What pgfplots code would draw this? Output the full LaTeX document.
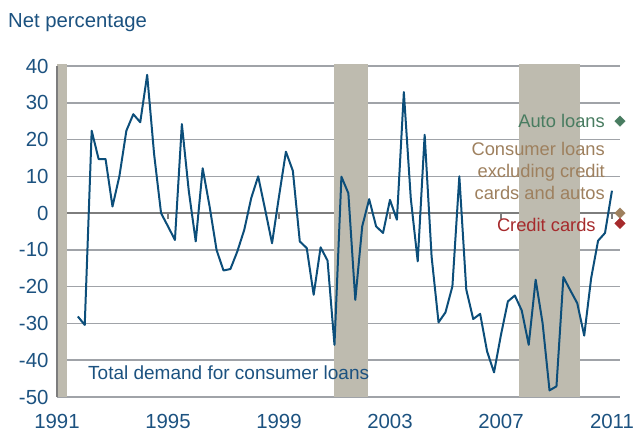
\documentclass[border=0pt]{standalone}
\usepackage{fontspec}
\setmainfont{Liberation Sans}
\usepackage{pgfplots}
\pgfplotsset{compat=1.18}
\definecolor{txtblue}{RGB}{28,82,128}
\definecolor{lineblue}{RGB}{12,78,122}
\definecolor{autogreen}{RGB}{72,124,96}
\definecolor{consbrown}{RGB}{158,128,94}
\definecolor{ccred}{RGB}{166,42,44}
\definecolor{shade}{RGB}{190,187,175}
\definecolor{gridgray}{RGB}{160,163,168}
\definecolor{zeroc}{RGB}{125,125,125}

\begin{document}
\begin{tikzpicture}
\useasboundingbox (0pt,0pt) rectangle (635pt,432pt);
\begin{axis}[at={(57pt,35pt)},anchor=south west,scale only axis,
  width=563pt,height=331pt,
  xmin=1991,xmax=2011.29,ymin=-50,ymax=40,clip=false,
  axis x line*=bottom,axis y line*=left,
  axis line style={draw=none},
  xtick={1991,1995,1999,2003,2007,2011},
  xticklabels={1991,1995,1999,2003,2007,2011},
  ytick={-50,-40,-30,-20,-10,0,10,20,30,40},
  yticklabels={-50,-40,-30,-20,-10,0,10,20,30,40},
  major tick length=0pt,
  tick label style={font=\fontsize{20.4}{23}\selectfont,text=txtblue},
  xticklabel style={yshift=-14pt},
  yticklabel style={xshift=-5pt}]
% grid, as thin filled strips
\fill[gridgray] ([yshift=-0.75pt]axis cs:1991,-50) rectangle ([yshift=0.75pt]axis cs:2011.29,-50);
\fill[gridgray] ([yshift=-0.75pt]axis cs:1991,-40) rectangle ([yshift=0.75pt]axis cs:2011.29,-40);
\fill[gridgray] ([yshift=-0.75pt]axis cs:1991,-30) rectangle ([yshift=0.75pt]axis cs:2011.29,-30);
\fill[gridgray] ([yshift=-0.75pt]axis cs:1991,-20) rectangle ([yshift=0.75pt]axis cs:2011.29,-20);
\fill[gridgray] ([yshift=-0.75pt]axis cs:1991,-10) rectangle ([yshift=0.75pt]axis cs:2011.29,-10);
\fill[gridgray] ([yshift=-0.75pt]axis cs:1991,10) rectangle ([yshift=0.75pt]axis cs:2011.29,10);
\fill[gridgray] ([yshift=-0.75pt]axis cs:1991,20) rectangle ([yshift=0.75pt]axis cs:2011.29,20);
\fill[gridgray] ([yshift=-0.75pt]axis cs:1991,30) rectangle ([yshift=0.75pt]axis cs:2011.29,30);
\fill[gridgray] ([yshift=-0.75pt]axis cs:1991,40) rectangle ([yshift=0.75pt]axis cs:2011.29,40);
\fill[zeroc] ([yshift=-1pt]axis cs:1991,0) rectangle ([yshift=1pt]axis cs:2011.29,0);
% recessions
\addplot[fill=shade,draw=none] coordinates {(1991,-50)(1991,40.5)(1991.35,40.5)(1991.35,-50)} -- cycle;
\addplot[fill=shade,draw=none] coordinates {(2001.0,-50)(2001.0,40.5)(2002.2,40.5)(2002.2,-50)} -- cycle;
\addplot[fill=shade,draw=none] coordinates {(2007.65,-50)(2007.65,40.5)(2009.85,40.5)(2009.85,-50)} -- cycle;
% left edge
\draw[zeroc,line width=1.6pt] (rel axis cs:0,0) -- (rel axis cs:0,1);
% small ticks on the zero line
\draw[zeroc,line width=1.5pt] (axis cs:1995,0) -- ++(0pt,-5.5pt);
\draw[zeroc,line width=1.5pt] (axis cs:1999,0) -- ++(0pt,-5.5pt);
\draw[zeroc,line width=1.5pt] (axis cs:2003,0) -- ++(0pt,-5.5pt);
\draw[zeroc,line width=1.5pt] (axis cs:2007,0) -- ++(0pt,-5.5pt);
\draw[zeroc,line width=1.5pt] (axis cs:2011,0) -- ++(0pt,-5.5pt);
% total demand for consumer loans
\addplot[lineblue,line width=2pt,line join=round] coordinates {
(1991.75,-28.1)(1992.00,-30.4)(1992.25,22.4)(1992.50,14.7)(1992.75,14.7)
(1993.00,1.8)(1993.25,10.1)(1993.50,22.4)(1993.75,26.9)(1994.00,24.7)
(1994.25,37.6)(1994.50,16.0)(1994.75,0.0)(1995.00,-3.6)(1995.25,-7.3)
(1995.50,24.2)(1995.75,6.0)(1996.00,-7.7)(1996.25,12.2)(1996.50,1.8)
(1996.75,-10.0)(1997.00,-15.6)(1997.25,-15.2)(1997.50,-10.4)(1997.75,-4.5)
(1998.00,4.1)(1998.25,10.0)(1998.50,1.0)(1998.75,-8.2)(1999.00,4.5)
(1999.25,16.7)(1999.50,11.5)(1999.75,-7.7)(2000.00,-9.5)(2000.25,-22.2)
(2000.50,-9.3)(2000.75,-12.9)(2001.00,-35.8)(2001.25,9.9)(2001.50,5.4)
(2001.75,-23.6)(2002.00,-3.6)(2002.25,3.8)(2002.50,-3.6)(2002.75,-5.4)
(2003.00,3.6)(2003.25,-1.8)(2003.50,32.9)(2003.75,4.0)(2004.00,-13.1)
(2004.25,21.3)(2004.50,-11.8)(2004.75,-29.7)(2005.00,-27.0)(2005.25,-19.9)
(2005.50,10.0)(2005.75,-20.8)(2006.00,-28.8)(2006.25,-27.4)(2006.50,-37.6)
(2006.75,-43.3)(2007.00,-33.1)(2007.25,-24.0)(2007.50,-22.4)(2007.75,-26.5)
(2008.00,-35.8)(2008.25,-18.1)(2008.50,-29.9)(2008.75,-48.2)(2009.00,-47.1)
(2009.25,-17.4)(2009.50,-21.0)(2009.75,-24.5)(2010.00,-33.3)(2010.25,-17.7)
(2010.50,-7.5)(2010.75,-5.4)(2011.00,6.1)};
% latest readings
\addplot[only marks,mark=square*,mark size=3.7pt,mark options={rotate=45},color=autogreen] coordinates {(2011.29,25)};
\addplot[only marks,mark=square*,mark size=3.7pt,mark options={rotate=45},color=consbrown] coordinates {(2011.29,0)};
\addplot[only marks,mark=square*,mark size=3.7pt,mark options={rotate=45},color=ccred] coordinates {(2011.29,-2.8)};
\node[anchor=east,inner sep=0pt,text=autogreen,font=\fontsize{18.3}{22}\selectfont] at (axis cs:2010.75,25) {Auto loans};
\node[anchor=east,inner sep=0pt,align=right,text=consbrown,font=\fontsize{18.3}{22}\selectfont] at (axis cs:2010.75,11.4) {Consumer loans\\excluding credit\\cards and autos};
\node[anchor=east,inner sep=0pt,text=ccred,font=\fontsize{18.3}{22}\selectfont] at (axis cs:2010.42,-3.3) {Credit cards};
\end{axis}
\node[anchor=base west,inner sep=0pt,text=txtblue,font=\fontsize{20.3}{22}\selectfont] at (8pt,404.7pt) {Net percentage};
\node[anchor=base west,inner sep=0pt,text=txtblue,font=\fontsize{19}{22}\selectfont] at (88pt,52.7pt) {Total demand for consumer loans};
\end{tikzpicture}
\end{document}
